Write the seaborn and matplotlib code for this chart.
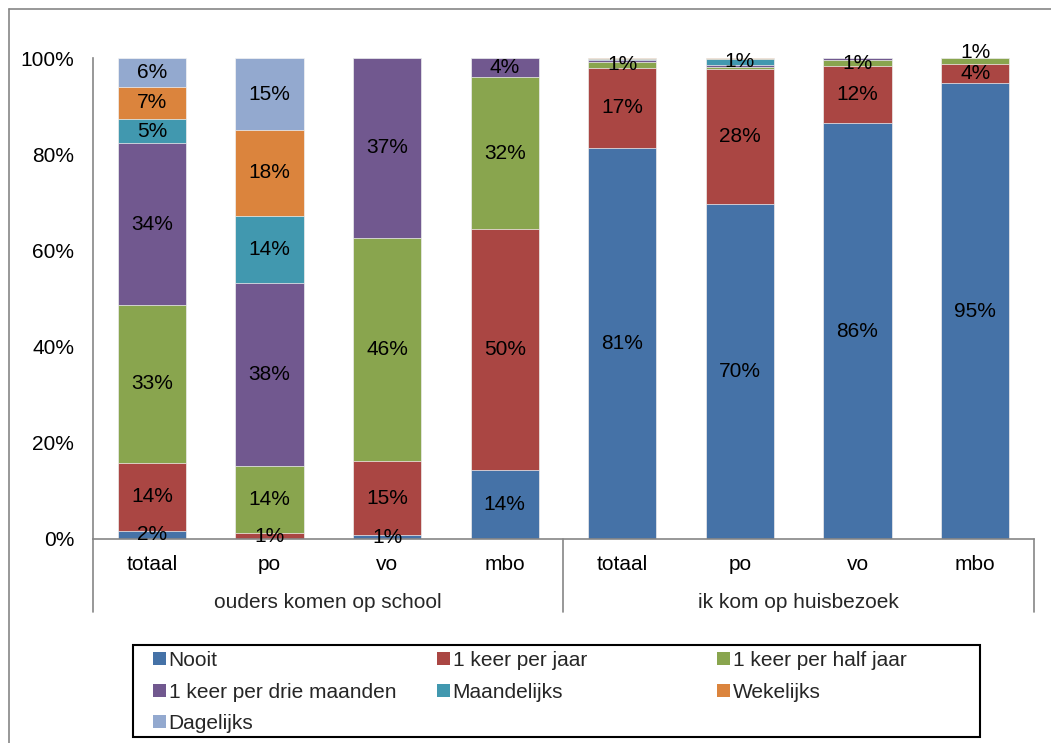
import pandas as pd
import seaborn as sns
import matplotlib.pyplot as plt
from matplotlib.patches import Patch, Rectangle
from matplotlib.lines import Line2D
from matplotlib.transforms import blended_transform_factory

# --- data ---
groepen = ['ouders komen op school', 'ik kom op huisbezoek']
niveaus = ['totaal', 'po', 'vo', 'mbo']
reeksen = ['Nooit', '1 keer per jaar', '1 keer per half jaar',
           '1 keer per drie maanden', 'Maandelijks', 'Wekelijks', 'Dagelijks']
kleuren = ['#4572A7', '#AA4643', '#89A54E', '#71588F', '#4198AF', '#DB843D', '#93A9CF']

# volgorde: school totaal/po/vo/mbo, huisbezoek totaal/po/vo/mbo
nooit = [1.7, 0.0, 0.8, 14.3, 81.3, 69.6, 86.4, 94.8]
per_jaar = [14.2, 1.2, 15.4, 50.1, 16.7, 28.1, 11.9, 4.0]
half_jaar = [32.7, 14.0, 46.4, 31.6, 1.2, 0.45, 1.3, 1.2]
drie_maanden = [33.7, 38.0, 37.4, 4.0, 0.35, 0.45, 0.4, 0.0]
maandelijks = [5.0, 14.0, 0.0, 0.0, 0.3, 1.2, 0.0, 0.0]
wekelijks = [6.7, 17.8, 0.0, 0.0, 0.15, 0.2, 0.0, 0.0]
dagelijks = [6.0, 15.0, 0.0, 0.0, 0.0, 0.0, 0.0, 0.0]

waarden = [nooit, per_jaar, half_jaar, drie_maanden, maandelijks, wekelijks, dagelijks]
ids = [f'{g}|{n}' for g in groepen for n in niveaus]

df = pd.DataFrame({'id': ids, **{r: v for r, v in zip(reeksen, waarden)}})
cum = df[reeksen].cumsum(axis=1)

sns.set_theme(style='white')
plt.rcParams['font.family'] = ['Liberation Sans', 'DejaVu Sans']
FS = 15
grijs = '#868686'

fig = plt.figure(figsize=(10.51, 7.43), dpi=100)
ax = fig.add_axes([0.0885, 0.2746, 0.8953, 0.6473])

# gestapelde balken: van boven naar beneden tekenen met cumulatieve waarden
for i in range(len(reeksen) - 1, -1, -1):
    sns.barplot(x=df['id'], y=cum[reeksen[i]], order=ids, color=kleuren[i],
                saturation=1, width=0.58, edgecolor='#f4f4f4', linewidth=0.5, ax=ax)

# labels in het midden van elk segment; te dicht op elkaar -> iets omhoog
for j in range(len(ids)):
    vorige = None
    for r in reeksen:
        v = df[r].iloc[j]
        if v < 0.5:
            continue
        yc = cum[r].iloc[j] - v / 2
        if vorige is not None and yc - vorige < 4.3:
            yc = vorige + 4.3
        ax.text(j, yc, f'{v:.0f}%', ha='center', va='center', fontsize=FS, color='black')
        vorige = yc

ax.set_xlim(-0.5, len(ids) - 0.5)
ax.set_ylim(0, 100)
ax.set_yticks(range(0, 101, 20))
ax.set_yticklabels([f'{t}%' for t in range(0, 101, 20)], fontsize=FS)
ax.set_xticks(range(len(ids)))
ax.set_xticklabels(niveaus * len(groepen), fontsize=FS)
ax.tick_params(axis='both', length=0, colors='black')
ax.tick_params(axis='y', pad=13.5)
ax.tick_params(axis='x', pad=11.5)
ax.set_xlabel('')
ax.set_ylabel('')

for s in ['top', 'right']:
    ax.spines[s].set_visible(False)
for s in ['left', 'bottom']:
    ax.spines[s].set_color(grijs)
    ax.spines[s].set_linewidth(1.2)

trans = blended_transform_factory(ax.transData, ax.transAxes)
for k, g in enumerate(groepen):
    ax.text(k * len(niveaus) + (len(niveaus) - 1) / 2, -0.133, g, transform=trans,
            ha='center', va='center', fontsize=FS)
for xs in [-0.5 + k * len(niveaus) for k in range(len(groepen) + 1)]:
    ax.plot([xs, xs], [-0.151, 0], transform=trans, color=grijs, lw=1.2, clip_on=False)

# rand rond de grafiek
fig.add_artist(Line2D([8.5 / 1051, 8.5 / 1051], [0, 1 - 8.5 / 743], color=grijs, lw=1.2))
fig.add_artist(Line2D([8.5 / 1051, 1], [1 - 8.5 / 743, 1 - 8.5 / 743], color=grijs, lw=1.2))

# legenda: drie kolommen van gelijke breedte, rij voor rij gevuld
fig.add_artist(Rectangle((133 / 1051, 6 / 743), 847 / 1051, 92 / 743, transform=fig.transFigure,
                         facecolor='white', edgecolor='black', lw=1.5))
kolom_x = [153, 437, 717]
for k, x0 in enumerate(kolom_x):
    idx = list(range(k, len(reeksen), 3))
    handles = [Patch(facecolor=kleuren[i], edgecolor='none') for i in idx]
    fig.legend(handles, [reeksen[i] for i in idx], loc='upper left',
               bbox_to_anchor=(x0 / 1051, 1 - 651 / 743), fontsize=FS, frameon=False,
               handlelength=0.6, handleheight=0.6, handletextpad=0.15,
               labelspacing=0.6, borderpad=0, borderaxespad=0)

fig.savefig('out.png', dpi=100, facecolor='white')
